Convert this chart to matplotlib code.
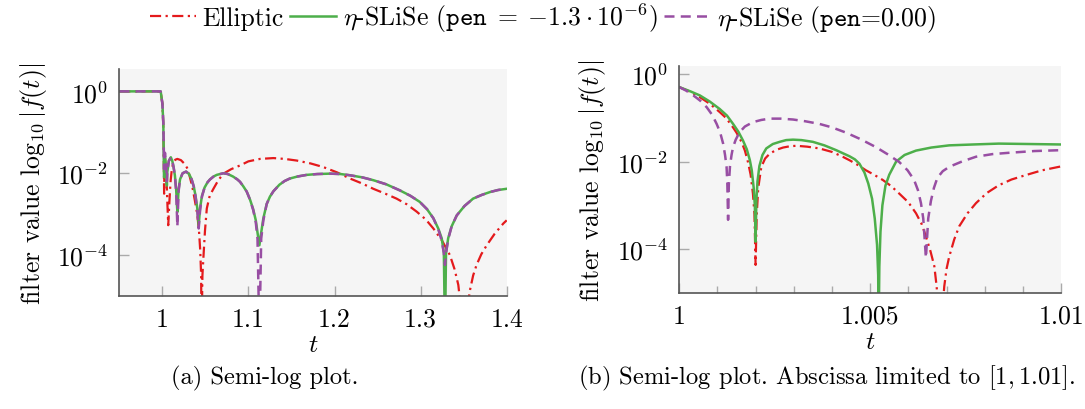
import numpy as np
import matplotlib
matplotlib.use("Agg")
import matplotlib.pyplot as plt
from matplotlib.ticker import FixedLocator, NullLocator, FixedFormatter

plt.rcParams['font.family'] = 'cmr10'
plt.rcParams['mathtext.fontset'] = 'cm'
plt.rcParams['axes.unicode_minus'] = False
plt.rcParams['font.size'] = 18.5

# ---- data (log10 of |f(t)|) ----
# left panel, t in [0.95, 1.4]
t_green_a = [0.95, 0.998, 1.0, 1.0011, 1.0018, 1.002, 1.0023, 1.003, 1.0045, 1.0052,
             1.0057, 1.0075, 1.0098, 1.0115, 1.013, 1.0145, 1.016, 1.0174, 1.0188,
             1.0205, 1.0235, 1.0275, 1.031, 1.034, 1.0365, 1.0385, 1.0405, 1.0422,
             1.0438, 1.046, 1.049, 1.0525, 1.0554, 1.0595, 1.0632, 1.0709, 1.076,
             1.082, 1.087, 1.0902, 1.094, 1.098, 1.1019, 1.1055, 1.1085, 1.1105,
             1.1127, 1.1148, 1.1173, 1.1212, 1.125, 1.129, 1.136, 1.142, 1.148,
             1.157, 1.1677, 1.18, 1.1948, 1.207, 1.218, 1.232, 1.245, 1.26, 1.276,
             1.288, 1.299, 1.3075, 1.3148, 1.3205, 1.3245, 1.327, 1.3283, 1.3295,
             1.332, 1.336, 1.342, 1.351, 1.361, 1.371, 1.3806, 1.39, 1.4]
green_a = [0, 0, -0.3, -0.8, -1.97, -2.1, -1.9, -1.6, -1.9, -2.3,
           -1.97, -1.7, -1.61, -1.7, -1.85, -2.05, -2.4, -2.95, -2.4,
           -2.15, -2.0, -1.96, -2.02, -2.15, -2.33, -2.55, -2.85, -3.27,
           -2.85, -2.55, -2.35, -2.22, -2.15, -2.08, -2.04, -2.0, -2.02,
           -2.08, -2.15, -2.21, -2.32, -2.45, -2.65, -2.88, -3.15, -3.45,
           -3.76, -3.45, -3.1, -2.75, -2.57, -2.44, -2.28, -2.19, -2.13,
           -2.08, -2.04, -2.02, -2.01, -2.02, -2.05, -2.1, -2.17, -2.27, -2.42,
           -2.55, -2.70, -2.88, -3.1, -3.35, -3.59, -3.95, -6, -3.95,
           -3.59, -3.3, -3.03, -2.8, -2.62, -2.53, -2.46, -2.41, -2.38]
t_purple_a = t_green_a
purple_a = [0, 0, -0.3, -0.76, -1.6, -1.9, -1.7, -1.5, -1.8, -2.2,
            -1.97, -1.7, -1.61, -1.7, -1.85, -2.05, -2.45, -3.3, -2.45,
            -2.15, -2.0, -1.96, -2.02, -2.15, -2.33, -2.57, -2.9, -3.35,
            -2.9, -2.57, -2.35, -2.22, -2.15, -2.08, -2.04, -2.0, -2.02,
            -2.08, -2.15, -2.21, -2.32, -2.45, -2.65, -2.9, -3.2, -3.6,
            -6, -3.6, -3.15, -2.75, -2.57, -2.44, -2.28, -2.19, -2.13,
            -2.08, -2.04, -2.02, -2.01, -2.02, -2.05, -2.1, -2.17, -2.27, -2.42,
            -2.55, -2.70, -2.88, -3.1, -3.37, -3.65, -3.95, -4.24, -3.95,
            -3.62, -3.3, -3.03, -2.8, -2.62, -2.53, -2.46, -2.41, -2.38]
t_red_a = [0.95, 0.998, 1.0, 1.0011, 1.0018, 1.002, 1.0023, 1.003, 1.0045, 1.0058,
           1.0068, 1.008, 1.0095, 1.011, 1.0128, 1.015, 1.0174, 1.0215, 1.0262,
           1.0295, 1.032, 1.035, 1.038, 1.0405, 1.0426, 1.044, 1.045, 1.0455,
           1.0465, 1.0476, 1.0495, 1.0516, 1.055, 1.0593, 1.065, 1.0709, 1.08,
           1.0902, 1.0999, 1.1135, 1.129, 1.142, 1.156, 1.172, 1.187, 1.203,
           1.218, 1.232, 1.245, 1.259, 1.272, 1.284, 1.2955, 1.306, 1.3148,
           1.325, 1.334, 1.3395, 1.3438, 1.3504, 1.357, 1.361, 1.365, 1.3705,
           1.3768, 1.386, 1.396, 1.4]
red_a = [0, 0, -0.3, -0.87, -2.0, -2.5, -2.0, -1.64, -1.97, -2.73,
         -3.27, -2.75, -2.2, -1.9, -1.73, -1.67, -1.65, -1.68, -1.78,
         -1.9, -2.1, -2.35, -2.7, -3.0, -3.43, -3.9, -4.49, -6,
         -4.5, -4.08, -3.4, -2.86, -2.55, -2.38, -2.17, -2.01, -1.9,
         -1.81, -1.71, -1.65, -1.63, -1.65, -1.69, -1.76, -1.85, -1.98,
         -2.13, -2.25, -2.38, -2.5, -2.62, -2.76, -2.94, -3.13, -3.35,
         -3.65, -4.0, -4.35, -4.73, -6, -4.89, -4.5, -4.24, -3.98,
         -3.76, -3.48, -3.23, -3.15]

# right panel, t in [1, 1.01]
t_green_b = [1.0, 1.0003, 1.00054, 1.0008, 1.00106, 1.00125, 1.00141, 1.00155, 1.00167,
             1.00177, 1.00185, 1.0019, 1.00195, 1.00198, 1.002, 1.00202, 1.00205,
             1.0021, 1.00218, 1.00228, 1.00245, 1.00263, 1.0028, 1.00298, 1.0032,
             1.0035, 1.0038, 1.00411, 1.00446, 1.0046, 1.00472, 1.00485, 1.00495,
             1.00505, 1.00512, 1.00518, 1.00521, 1.00522, 1.00524, 1.00527, 1.00532,
             1.0054, 1.0055, 1.00568, 1.0059, 1.0062, 1.0066, 1.00707, 1.0077,
             1.00837, 1.0092, 1.01]
green_b = [-0.30, -0.40, -0.49, -0.63, -0.80, -0.95, -1.14, -1.32, -1.52,
           -1.72, -1.97, -2.2, -2.6, -3.0, -3.83, -2.9, -2.45,
           -2.1, -1.85, -1.70, -1.6, -1.55, -1.51, -1.50, -1.51,
           -1.55, -1.63, -1.74, -1.88, -1.95, -2.05, -2.25, -2.5,
           -2.85, -3.3, -3.9, -4.6, -6, -4.4, -3.6, -3.0,
           -2.55, -2.3, -2.0, -1.85, -1.75, -1.68, -1.63, -1.61,
           -1.59, -1.6, -1.61]
t_purple_b = [1.0, 1.00018, 1.00037, 1.00055, 1.00072, 1.00086, 1.00098, 1.00107,
              1.00115, 1.0012, 1.00124, 1.00126, 1.00128, 1.0013, 1.00133, 1.00137,
              1.00141, 1.00148, 1.00158, 1.00172, 1.00193, 1.00215, 1.00237, 1.00265,
              1.00298, 1.0033, 1.00367, 1.004, 1.00437, 1.00475, 1.00515, 1.00545,
              1.00576, 1.00598, 1.00615, 1.00625, 1.00633, 1.00639, 1.00646, 1.00652,
              1.00659, 1.00667, 1.00676, 1.0069, 1.00707, 1.0074, 1.00777, 1.0082,
              1.00863, 1.0093, 1.01]
purple_b = [-0.30, -0.38, -0.49, -0.61, -0.76, -0.93, -1.14, -1.33,
            -1.59, -1.85, -2.12, -2.5, -3.33, -2.5, -2.1, -1.85,
            -1.67, -1.5, -1.33, -1.2, -1.10, -1.05, -1.02, -1.02,
            -1.04, -1.08, -1.14, -1.22, -1.34, -1.49, -1.67, -1.83,
            -2.01, -2.2, -2.42, -2.65, -2.95, -3.3, -4.2, -3.3,
            -2.9, -2.6, -2.37, -2.22, -2.12, -2.0, -1.89, -1.83,
            -1.80, -1.76, -1.74]
t_red_b = [1.0, 1.0003, 1.00054, 1.0008, 1.00106, 1.00122, 1.00137, 1.0015, 1.00163,
           1.00172, 1.0018, 1.00187, 1.00193, 1.00197, 1.002, 1.00203, 1.00207,
           1.00215, 1.00225, 1.00237, 1.00255, 1.00272, 1.0029, 1.00307, 1.00335,
           1.00367, 1.004, 1.00428, 1.00446, 1.00468, 1.00489, 1.0051, 1.00533,
           1.00555, 1.00576, 1.006, 1.0062, 1.00635, 1.00646, 1.00658, 1.00668,
           1.00674, 1.00684, 1.00694, 1.007, 1.00707, 1.0072, 1.00733, 1.00755,
           1.00777, 1.00805, 1.00837, 1.0087, 1.00907, 1.0095, 1.01]
red_b = [-0.30, -0.41, -0.53, -0.68, -0.87, -1.0, -1.17, -1.34, -1.55,
         -1.75, -2.01, -2.3, -2.73, -3.2, -4.36, -3.2, -2.6,
         -2.12, -1.93, -1.82, -1.73, -1.68, -1.65, -1.64, -1.66,
         -1.70, -1.78, -1.89, -1.97, -2.08, -2.20, -2.3, -2.42,
         -2.56, -2.73, -2.93, -3.18, -3.43, -3.71, -4.05, -4.39,
         -4.85, -6, -4.85, -4.45, -4.17, -3.78, -3.48, -3.18,
         -2.95, -2.72, -2.54, -2.41, -2.31, -2.2, -2.11]

labels = ['Elliptic',
          r'$\eta$-SLiSe ($\mathtt{pen}\;=\;{-}1.3\cdot10^{-6}$)',
          r'$\eta$-SLiSe ($\mathtt{pen}$=0.00)']
red = '#e41a1c'
green = '#4daf4a'
purple = '#984ea3'

fig = plt.figure(figsize=(10.85, 4.1), dpi=100)
ax1 = fig.add_axes([0.110, 0.2756, 0.357, 0.5534])
ax2 = fig.add_axes([0.626, 0.283, 0.352, 0.553])


def style(ax):
    ax.set_facecolor('#f5f5f5')
    ax.set_yscale('log')
    for s in ['top', 'right']:
        ax.spines[s].set_visible(False)
    for s in ['left', 'bottom']:
        ax.spines[s].set_color('#555555')
        ax.spines[s].set_linewidth(1.2)
    ax.tick_params(which='major', direction='in', length=7, width=1,
                   color='#aaaaaa', pad=8)
    ax.tick_params(which='minor', direction='in', length=5, width=1,
                   color='#aaaaaa')
    ax.yaxis.set_major_locator(FixedLocator([1, 1e-2, 1e-4]))
    ax.yaxis.set_major_formatter(FixedFormatter([r'$10^{0}$', r'$10^{-2}$', r'$10^{-4}$']))
    ax.yaxis.set_minor_locator(NullLocator())
    ax.set_xlabel(r'$t$', labelpad=1)
    ax.set_ylabel(r'filter value $\log_{10}|f(t)|$', labelpad=6)


def lines(ax, tr, r, tg, g, tp, p):
    l1, = ax.plot(tr, np.power(10.0, r), color=red, lw=1.6, ls=(0, (5, 2, 1, 2)))
    l2, = ax.plot(tg, np.power(10.0, g), color=green, lw=1.8)
    l3, = ax.plot(tp, np.power(10.0, p), color=purple, lw=1.8, ls=(0, (4, 2.5)))
    return [l1, l2, l3]


style(ax1)
handles = lines(ax1, t_red_a, red_a, t_green_a, green_a, t_purple_a, purple_a)
ax1.set_xlim(0.95, 1.4)
ax1.set_ylim(1e-5, 3.5)
ax1.set_xticks([1, 1.1, 1.2, 1.3, 1.4])
ax1.set_xticklabels(['1', '1.1', '1.2', '1.3', '1.4'])

style(ax2)
lines(ax2, t_red_b, red_b, t_green_b, green_b, t_purple_b, purple_b)
ax2.set_xlim(1.0, 1.01)
ax2.set_ylim(1e-5, 1.5)
ax2.set_xticks([1, 1.005, 1.01])
ax2.set_xticklabels(['1', '1.005', '1.01'])
ax2.xaxis.set_minor_locator(FixedLocator([1.001, 1.002, 1.003, 1.004, 1.006,
                                          1.007, 1.008, 1.009]))

fig.legend(handles, labels, loc='center', bbox_to_anchor=(0.5, 0.955),
           ncol=3, frameon=False, handlelength=1.8, handletextpad=0.25,
           columnspacing=0.25, borderaxespad=0)

fig.text(0.244, 0.078, '(a) Semi-log plot.', ha='center', va='center', fontsize=17.7)
fig.text(0.762, 0.078, r'(b) Semi-log plot. Abscissa limited to $[1,1.01]$.',
         ha='center', va='center', fontsize=17.7)

fig.savefig('out.png', dpi=100)
